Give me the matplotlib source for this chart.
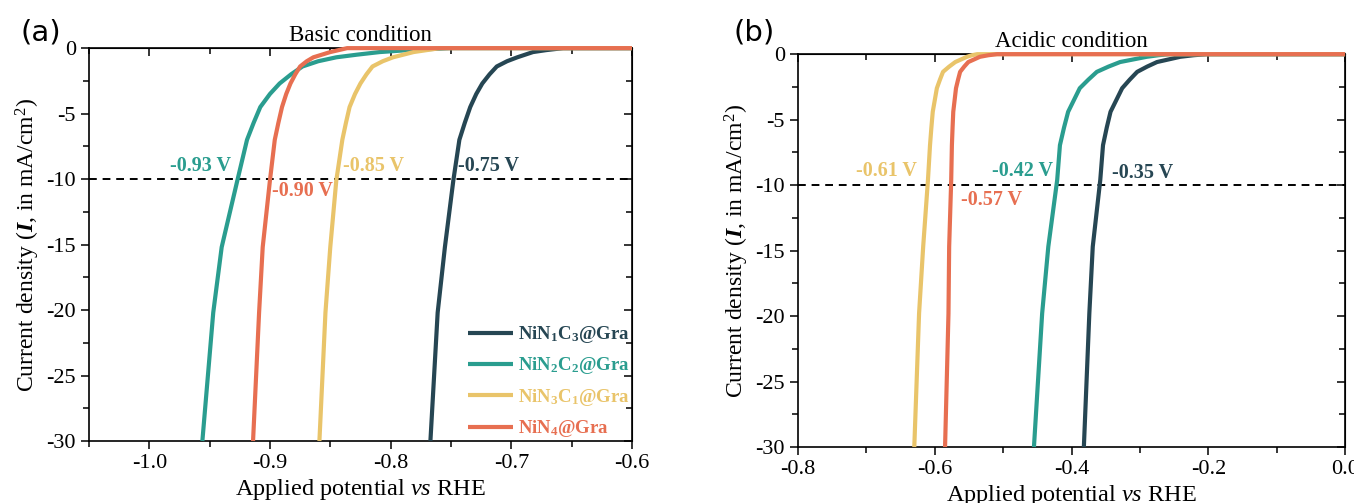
import matplotlib
matplotlib.use("Agg")
import matplotlib.pyplot as plt
from matplotlib.ticker import MultipleLocator, FormatStrFormatter

plt.rcParams['font.family'] = ['Liberation Serif', 'DejaVu Serif']
plt.rcParams['mathtext.fontset'] = 'custom'
plt.rcParams['mathtext.rm'] = 'Liberation Serif'
plt.rcParams['mathtext.it'] = 'Liberation Serif:italic'
plt.rcParams['mathtext.bf'] = 'Liberation Serif:bold'
plt.rcParams['mathtext.bfit'] = 'Liberation Serif:italic:bold'
plt.rcParams['axes.unicode_minus'] = False

# --- данные ---
names = [r"NiN$_\mathbf{1}$C$_\mathbf{3}$@Gra", r"NiN$_\mathbf{2}$C$_\mathbf{2}$@Gra",
         r"NiN$_\mathbf{3}$C$_\mathbf{1}$@Gra", r"NiN$_\mathbf{4}$@Gra"]
colors = ["#264653", "#2a9d8f", "#e9c46a", "#e76f51"]

# (a) basic
j_basic = [-30, -20.2, -15.2, -10.1, -7.0, -5.7, -4.5, -3.5, -2.7, -2.0,
           -1.4, -1.0, -0.7, -0.5, -0.3, -0.15, 0.0, 0.0]
v_basic_n1c3 = [-0.767, -0.761, -0.755, -0.748, -0.743, -0.7385, -0.734, -0.729, -0.724, -0.718,
                -0.712, -0.7035, -0.695, -0.6885, -0.682, -0.671, -0.657, -0.6]
v_basic_n2c2 = [-0.956, -0.947, -0.940, -0.927, -0.919, -0.9135, -0.908, -0.900, -0.892, -0.8825,
                -0.873, -0.860, -0.845, -0.828, -0.809, -0.785, -0.750, -0.6]
v_basic_n3c1 = [-0.859, -0.854, -0.850, -0.845, -0.840, -0.837, -0.834, -0.8295, -0.825, -0.820,
                -0.815, -0.8065, -0.798, -0.7895, -0.781, -0.770, -0.759, -0.6]
v_basic_n4 = [-0.914, -0.909, -0.906, -0.900, -0.896, -0.893, -0.890, -0.8865, -0.883, -0.879,
              -0.875, -0.8695, -0.864, -0.857, -0.850, -0.843, -0.836, -0.6]
basic_labels = ["-0.75 V", "-0.93 V", "-0.85 V", "-0.90 V"]

# (b) acidic
j_acid = [-30, -19.8, -14.7, -9.6, -6.95, -5.6, -4.4, -3.5, -2.6, -1.95,
          -1.35, -0.95, -0.6, -0.4, -0.2, -0.08, 0.0, 0.0]
v_acid_n1c3 = [-0.382, -0.374, -0.369, -0.358, -0.354, -0.3485, -0.343, -0.3345, -0.326, -0.315,
               -0.304, -0.2895, -0.275, -0.258, -0.241, -0.2215, -0.202, 0.0]
v_acid_n2c2 = [-0.455, -0.443, -0.434, -0.421, -0.417, -0.411, -0.405, -0.3965, -0.388, -0.3755,
               -0.363, -0.346, -0.329, -0.3095, -0.290, -0.273, -0.256, 0.0]
v_acid_n3c1 = [-0.630, -0.623, -0.617, -0.610, -0.607, -0.605, -0.603, -0.600, -0.597, -0.5925,
               -0.588, -0.579, -0.570, -0.5615, -0.553, -0.5455, -0.538, 0.0]
v_acid_n4 = [-0.585, -0.580, -0.579, -0.576, -0.575, -0.574, -0.573, -0.571, -0.569, -0.566,
             -0.563, -0.557, -0.551, -0.5425, -0.534, -0.5215, -0.509, 0.0]
acid_labels = ["-0.35 V", "-0.42 V", "-0.61 V", "-0.57 V"]


def style_axes(ax, xlim, xmajor, xminor):
    ax.set_xlim(*xlim)
    ax.set_ylim(-30, 0)
    ax.xaxis.set_major_locator(MultipleLocator(xmajor))
    ax.xaxis.set_minor_locator(MultipleLocator(xminor))
    ax.xaxis.set_major_formatter(FormatStrFormatter('%.1f'))
    ax.yaxis.set_major_locator(MultipleLocator(5))
    ax.yaxis.set_minor_locator(MultipleLocator(2.5))
    ax.tick_params(which='both', direction='out', labelsize=16, width=1.1)
    ax.tick_params(which='major', length=6)
    ax.tick_params(which='minor', length=4)
    for s in ax.spines.values():
        s.set_linewidth(1.2)
    # верх и право: риски внутрь
    top = ax.secondary_xaxis('top')
    top.xaxis.set_major_locator(MultipleLocator(xmajor))
    top.xaxis.set_minor_locator(MultipleLocator(xminor))
    top.tick_params(which='both', direction='in', labeltop=False, width=1.1)
    top.tick_params(which='major', length=6)
    top.tick_params(which='minor', length=4)
    right = ax.secondary_yaxis('right')
    right.yaxis.set_major_locator(MultipleLocator(5))
    right.yaxis.set_minor_locator(MultipleLocator(2.5))
    right.tick_params(which='both', direction='in', labelright=False, width=1.1)
    right.tick_params(which='major', length=6)
    right.tick_params(which='minor', length=4)
    ax.axhline(-10, color='black', ls=(0, (4, 3)), lw=1.4, zorder=1)
    ax.set_xlabel(r"Applied potential $\mathit{vs}$ RHE", fontsize=17.5, labelpad=3)
    ax.set_ylabel(r"Current density ($\mathbfit{I}$, in mA/cm$^2$)", fontsize=17, labelpad=3)


fig = plt.figure(figsize=(13.54, 5.03), dpi=100)
ax1 = fig.add_axes([0.0657, 0.1233, 0.401, 0.781])
ax2 = fig.add_axes([0.5894, 0.1113, 0.404, 0.781])

basic = [v_basic_n1c3, v_basic_n2c2, v_basic_n3c1, v_basic_n4]
acid = [v_acid_n1c3, v_acid_n2c2, v_acid_n3c1, v_acid_n4]

for v, c, n in zip(basic, colors, names):
    ax1.plot(v, j_basic, color=c, lw=3, label=n, clip_on=False, zorder=3,
             solid_capstyle='butt', solid_joinstyle='round')
for v, c in zip(acid, colors):
    ax2.plot(v, j_acid, color=c, lw=3, clip_on=False, zorder=3,
             solid_capstyle='butt', solid_joinstyle='round')

style_axes(ax1, (-1.05, -0.6), 0.1, 0.05)
style_axes(ax2, (-0.8, 0.0), 0.2, 0.1)

ax1.set_title("Basic condition", fontsize=16.5, pad=5)
ax2.set_title("Acidic condition", fontsize=16.5, pad=5)

# подписи потенциалов
ann_basic = [(-0.744, -9.0, 'left'), (-0.932, -9.0, 'right'),
             (-0.8395, -9.0, 'left'), (-0.898, -10.9, 'left')]
for (x, y, ha), t, c in zip(ann_basic, basic_labels, colors):
    ax1.text(x, y, t, color=c, fontsize=14.5, fontweight='bold', ha=ha, va='center')
ann_acid = [(-0.341, -9.1, 'left'), (-0.427, -8.9, 'right'),
            (-0.626, -8.9, 'right'), (-0.562, -11.1, 'left')]
for (x, y, ha), t, c in zip(ann_acid, acid_labels, colors):
    ax2.text(x, y, t, color=c, fontsize=14.5, fontweight='bold', ha=ha, va='center')

leg = ax1.legend(loc='lower right', frameon=False, handlelength=2.4,
                 handletextpad=0.3, labelspacing=0.55, borderaxespad=0.0,
                 borderpad=0.1, prop={'weight': 'bold', 'size': 13.5})
for txt, c in zip(leg.get_texts(), colors):
    txt.set_color(c)

fig.text(0.030, 0.935, "(a)", fontsize=21, family='DejaVu Sans', ha='center', va='center')
fig.text(0.557, 0.935, "(b)", fontsize=21, family='DejaVu Sans', ha='center', va='center')

fig.savefig("out.png", dpi=100)
